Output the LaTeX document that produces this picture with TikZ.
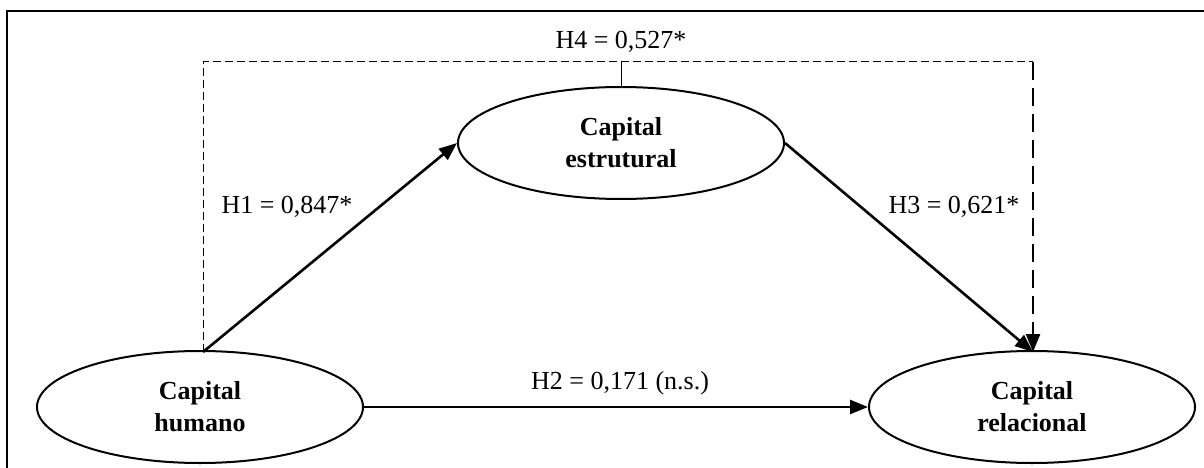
\documentclass[tikz,border=0pt]{standalone}
\usepackage{fontspec}
\setmainfont{Liberation Serif}
\usetikzlibrary{arrows.meta,shapes.geometric}
\begin{document}
\begin{tikzpicture}[x=1pt,y=-1pt,
  construct/.style={ellipse,draw,line width=2pt,minimum width=326pt,minimum height=112pt,inner sep=0pt,
    font=\fontsize{26}{32}\selectfont\bfseries,align=center},
  path/.style={line width=2.6pt,-{Triangle[length=18pt,width=14pt]}},
  lbl/.style={font=\fontsize{26}{30}\selectfont,inner sep=0pt},
  thindash/.style={line width=1pt,dash pattern=on 8pt off 4pt},
  thickdash/.style={line width=2.6pt,dash pattern=on 18pt off 8pt,-{Triangle[length=18pt,width=14pt]}}]
\useasboundingbox (0,0) rectangle (1204,468);
\begin{scope}
\clip (0,0) rectangle (1204,468);
\draw[line width=2pt] (7,11) rectangle (1220,480);
\end{scope}
\node[construct] (hum) at (200,407) {Capital\\humano};
\node[construct] (est) at (621,143) {Capital\\estrutural};
\node[construct] (rel) at (1032,407) {Capital\\relacional};
\coordinate (tl) at (203,62);
\coordinate (tr) at (1033,62);
\coordinate (tm) at (621,62);
\coordinate (hs) at (203,352);
\coordinate (re) at (1033,352);
\draw[thindash] (hs) -- (tl) -- (tr);
\draw[thickdash] (tr) -- (re);
\draw[line width=1pt] (est.north) -- (tm);
\draw[path] (hs) -- (est.west);
\draw[path] (est.east) -- (re);
\draw[path] (hum.east) -- (rel.west);
\node[lbl] (l4) at (621,42) {H4 = 0,527*};
\node[lbl] (l1) at (287,207) {H1 = 0,847*};
\node[lbl] (l3) at (954,207) {H3 = 0,621*};
\node[lbl] (l2) at (620,383) {H2 = 0,171 (n.s.)};
\end{tikzpicture}
\end{document}
